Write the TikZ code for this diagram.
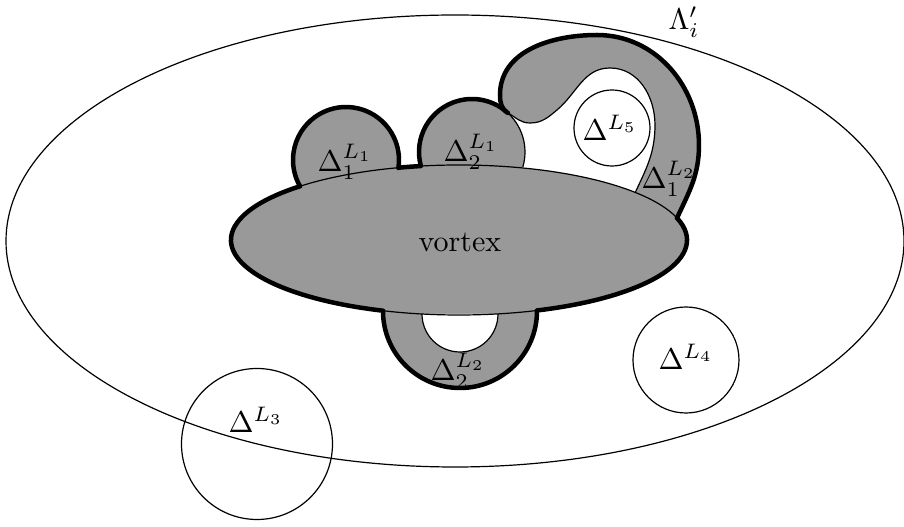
\documentclass[tikz,border=0pt]{standalone}
\usepackage{amsmath,amssymb}
\usepackage{xcolor}
\definecolor{Col1}{RGB}{153,153,153}
\usepackage{tikz}
\tikzstyle{Thin}=[draw=black,line width=0.4pt]
\tikzstyle{Thick}=[draw=black,line width=1.5pt,line cap=round]
\tikzstyle{Piece}=[fill=Col1]
\tikzstyle{Hole}=[fill=white]
\tikzstyle{NodeST}=[inner sep=0pt]

\begin{document}
\begin{tikzpicture}[x=0.3333pt,y=0.3333pt]
    \useasboundingbox(0,0)rectangle(904,-527);
    % outer region
    \draw[Thin](455,-241)ellipse(449 and 226);
    % grey pieces
    \fill[Piece](346,-160)circle(53);
    \fill[Piece](472,-152)circle(53);
    \fill[Piece](383,-311)arc[start angle=180,end angle=360,radius=77]--cycle;
    \fill[Piece](677,-218)to[out=65,in=-90](699,-145)to[out=90,in=0](597,-35)
        to[out=180,in=90](500,-95)to[out=-90,in=150](508,-113)
        to[out=-30,in=180](530,-123)to[out=0,in=-140](557,-110)
        to[out=40,in=180](610,-68)to[out=0,in=90](655,-125)
        to[out=-90,in=65](635,-193)--cycle;
    \fill[Piece](459,-240)ellipse(228 and 75);
    \fill[Hole](422,-314)arc[start angle=180,end angle=360,radius=38]--cycle;
    % thin borders
    \draw[Thin](459,-240)ellipse(228 and 75);
    \draw[Thin](472,-152)++(50.2:53)arc[start angle=50.2,end angle=-16.4,radius=53];
    \draw[Thin](508,-113)to[out=-30,in=180](530,-123)to[out=0,in=-140](557,-110)
        to[out=40,in=180](610,-68)to[out=0,in=90](655,-125)to[out=-90,in=65](635,-193);
    \draw[Thin](422,-314)arc[start angle=180,end angle=360,radius=38];
    % thick borders
    \draw[Thick](346,-160)++(-8.7:53)arc[start angle=-8.7,end angle=209.5,radius=53];
    \draw[Thick](472,-152)++(195.3:53)arc[start angle=195.3,end angle=50.2,radius=53];
    \draw[Thick](677,-218)to[out=65,in=-90](699,-145)to[out=90,in=0](597,-35)
        to[out=180,in=90](500,-95)to[out=-90,in=150](508,-113);
    \draw[Thick](383,-311)arc[start angle=180,end angle=360,radius=77];
    \draw[Thick](459,-240)++(17:228 and 75)arc[start angle=17,end angle=-70,x radius=228,y radius=75];
    \draw[Thick](459,-240)++(-109.5:228 and 75)arc[start angle=-109.5,end angle=-225.8,x radius=228,y radius=75];
    \draw[Thick](459,-240)++(105.3:228 and 75)arc[start angle=105.3,end angle=99.8,x radius=228,y radius=75];
    % other discs
    \draw[Thin,fill=white](612,-128)circle(38);
    \draw[Thin](686,-360)circle(53);
    \draw[Thin](257,-444)circle(75.5);
    % labels
    \node[NodeST](0)at(684,-22){$\Lambda'_i$};
    \node[NodeST](1)at(460,-242){vortex};
    \node[NodeST](2)at(345,-162){$\Delta_1^{L_1}$};
    \node[NodeST](3)at(471,-152){$\Delta_2^{L_1}$};
    \node[NodeST](4)at(610,-128){$\Delta^{L_5}$};
    \node[NodeST](5)at(669,-179){$\Delta_1^{L_2}$};
    \node[NodeST](6)at(458,-371){$\Delta_2^{L_2}$};
    \node[NodeST](7)at(686,-357){$\Delta^{L_4}$};
    \node[NodeST](8)at(256,-420){$\Delta^{L_3}$};
\end{tikzpicture}
\end{document}
